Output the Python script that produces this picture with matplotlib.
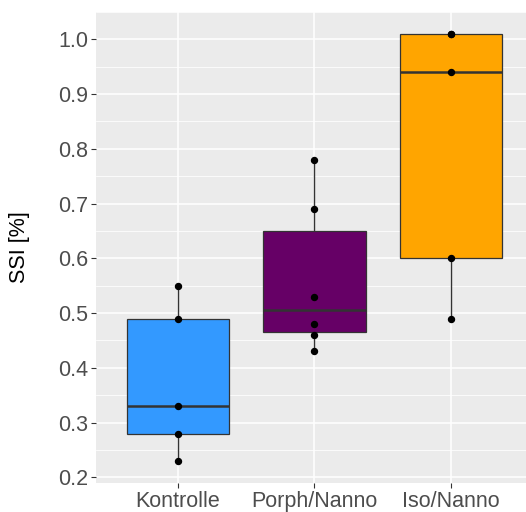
import numpy as np
from matplotlib import pyplot as plt
from matplotlib import rc
rc('font', **{'family': 'sans-serif', 'sans-serif': ['Liberation Sans', 'DejaVu Sans']})

groups = ["Kontrolle", "Porph/Nanno", "Iso/Nanno"]
colors = ["#3399FF", "#660066", "#FFA500"]

kontrolle = [0.23, 0.28, 0.33, 0.49, 0.55]
porph_nanno = [0.43, 0.46, 0.48, 0.53, 0.69, 0.78]
iso_nanno = [0.49, 0.60, 0.94, 1.01, 1.01]

values = [kontrolle, porph_nanno, iso_nanno]

fig = plt.figure(figsize=(5.26, 5.12), dpi=100)
ax = fig.add_axes([96 / 526, 29 / 512, 430 / 526, 471 / 512])
ax.set_facecolor("#EBEBEB")

pos = np.arange(1, len(groups) + 1)

# grid like ggplot: major and minor white lines
ymajor = [0.2, 0.3, 0.4, 0.5, 0.6, 0.7, 0.8, 0.9, 1.0]
for y in ymajor:
    ax.axhline(y, color="white", lw=1.1, zorder=0)
    ax.axhline(y + 0.05, color="white", lw=0.55, zorder=0)
ax.axhline(0.15, color="white", lw=0.55, zorder=0)
for x in pos:
    ax.axvline(x, color="white", lw=1.1, zorder=0)

bp = ax.boxplot(values, positions=pos, widths=0.75, patch_artist=True,
                whis=1.5, showfliers=False, showcaps=False,
                medianprops=dict(color="#333333", lw=1.8),
                boxprops=dict(edgecolor="#333333", lw=0.9),
                whiskerprops=dict(color="#333333", lw=1.0))
for patch, c in zip(bp["boxes"], colors):
    patch.set_facecolor(c)
    patch.set_zorder(2)
for w in bp["whiskers"]:
    w.set_zorder(1)
for m in bp["medians"]:
    m.set_zorder(3)

for x, v in zip(pos, values):
    ax.plot([x] * len(v), v, "o", color="black", ms=4.3, zorder=4)

ax.set_xlim(0.399, 3.55)
ax.set_ylim(0.1896, 1.0499)
ax.set_xticks(pos)
ax.set_xticklabels(groups)
ax.set_yticks(ymajor)
ax.set_yticklabels(["%.1f" % y for y in ymajor])
ax.tick_params(axis="both", length=3.5, width=0.8, color="#333333",
               labelcolor="#4D4D4D", labelsize=15.5, pad=2)
ax.set_ylabel("SSI [%]", fontsize=15.5, color="black", labelpad=20)
for s in ax.spines.values():
    s.set_visible(False)

plt.savefig("out.png", dpi=100)
